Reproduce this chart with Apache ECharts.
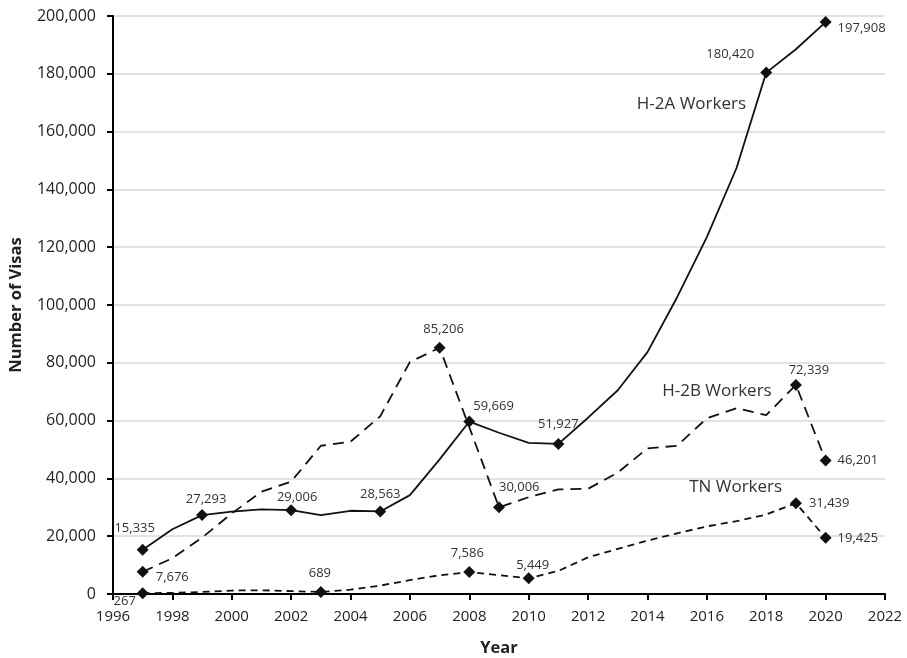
<!DOCTYPE html>
<html>
<head>
<meta charset="utf-8">
<script src="https://cdn.jsdelivr.net/npm/echarts@6/dist/echarts.min.js"></script>
<style>
html,body{margin:0;padding:0;background:#fff;}
#chart{width:907px;height:658px;}
</style>
</head>
<body>
<div id="chart"></div>
<script>
const years = [1997,1998,1999,2000,2001,2002,2003,2004,2005,2006,2007,2008,2009,2010,2011,2012,2013,2014,2015,2016,2017,2018,2019,2020];
const h2a = [15335,22400,27293,28500,29300,29006,27300,28800,28563,34200,46600,59669,55800,52300,51927,61000,70500,83700,102700,123500,147400,180420,188500,197908];
const h2b = [7676,12400,19500,27900,35400,38900,51300,52700,61500,80300,85206,57700,30006,33500,36200,36400,42000,50400,51300,60800,64300,61900,72339,46201];
const tn = [267,400,700,1200,1300,1000,689,1500,2900,4800,6500,7586,6500,5449,8000,12700,15600,18500,21000,23400,25200,27500,31439,19425];
const h2aLabeled = [1997,1999,2002,2005,2008,2011,2018,2020];
const h2bLabeled = [1997,2007,2009,2019,2020];
const tnLabeled = [1997,2003,2008,2010,2019,2020];
const seriesNames = ['H-2A Workers','H-2B Workers','TN Workers'];
const xTicks = {min:1996, max:2022, interval:2};
const yTicks = {min:0, max:200000, interval:20000};

// label placement (style only)
const labelStyle = {
  'H-2A Workers': {1997:['top',[-8,-4]],1999:['top',[4,2]],2002:['top',[6,5]],2005:['top',[0,0]],2008:['right',[-7,-15]],2011:['top',[0,-2]],2018:['left',[-1,-18]],2020:['right',[1,6]]},
  'H-2B Workers': {1997:['right',[2,5]],2007:['top',[4,-1]],2009:['right',[-11,-20]],2019:['top',[13,3]],2020:['right',[1,0]]},
  'TN Workers': {1997:['bottom',[-18,-9]],2003:['top',[-1,-1]],2008:['top',[-2,-1]],2010:['top',[4,5]],2019:['right',[2,0]],2020:['right',[1,0]]}
};
const annot = {
  'H-2A Workers': [2015.48,169500],
  'H-2B Workers': [2016.34,70350],
  'TN Workers': [2016.97,36900]
};
const fmt = v => v.toLocaleString('en-US');
const FONT = '"Open Sans", sans-serif';

function build(name, vals, labeled, dash){
  const data = years.map((y,i)=>{
    const item = {value:[y, vals[i]]};
    if (labeled.includes(y)) {
      const ls = labelStyle[name][y];
      item.symbol = 'diamond';
      item.symbolSize = 12;
      item.label = {show:true, position:ls[0], offset:ls[1], formatter:p=>fmt(p.value[1]),
        fontFamily:FONT, fontSize:13, color:'#333', distance:5};
    } else {
      item.symbol = 'none';
    }
    return item;
  });
  return {
    name, type:'line', data, showSymbol:true,
    lineStyle:{color:'#111', width:1.8, type:dash},
    itemStyle:{color:'#111'},
    emphasis:{disabled:true},
    z:3,
    markPoint:{
      symbol:'circle', symbolSize:0, silent:true,
      data:[{coord:annot[name], value:name}],
      label:{show:true, position:'inside', formatter:name, fontFamily:FONT, fontSize:17, color:'#333'}
    }
  };
}

const chart = echarts.init(document.getElementById('chart'));
chart.setOption({
  animation:false,
  backgroundColor:'#fff',
  grid:{left:113, right:22, top:16, bottom:64, outerBoundsMode:'none', containLabel:false},
  xAxis:{
    type:'value', min:xTicks.min, max:xTicks.max, interval:xTicks.interval,
    name:'Year', nameLocation:'middle', nameGap:46,
    nameTextStyle:{fontFamily:FONT, fontSize:16.5, fontWeight:'bold', color:'#222'},
    axisLine:{show:true, lineStyle:{color:'#000', width:2}},
    axisTick:{show:true, length:6, lineStyle:{color:'#000', width:2}},
    splitLine:{show:false},
    axisLabel:{fontFamily:FONT, fontSize:15, color:'#222', margin:15, formatter:v=>String(v)}
  },
  yAxis:{
    type:'value', min:yTicks.min, max:yTicks.max, interval:yTicks.interval,
    name:'Number of Visas', nameLocation:'middle', nameGap:88, nameRotate:90,
    nameTextStyle:{fontFamily:FONT, fontSize:16.5, fontWeight:'bold', color:'#222'},
    axisLine:{show:true, lineStyle:{color:'#000', width:2}},
    axisTick:{show:true, length:6, lineStyle:{color:'#000', width:2}},
    splitLine:{show:true, lineStyle:{color:'#d9d9d9', width:1.5}},
    axisLabel:{fontFamily:FONT, fontSize:16, color:'#222', margin:17, formatter:v=>fmt(v)}
  },
  series:[
    build(seriesNames[0], h2a, h2aLabeled, 'solid'),
    build(seriesNames[1], h2b, h2bLabeled, [11,7]),
    build(seriesNames[2], tn, tnLabeled, [7,5])
  ]
});
</script>
</body>
</html>
